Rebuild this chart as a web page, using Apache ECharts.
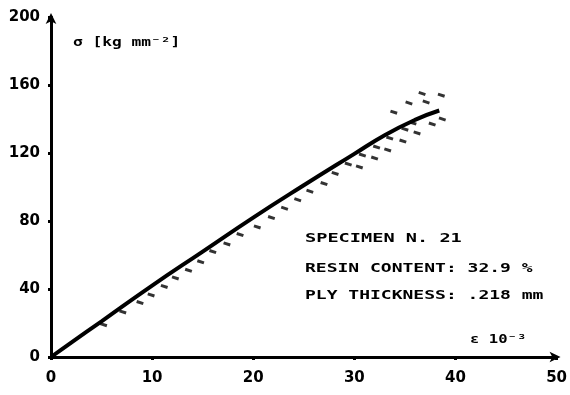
<!DOCTYPE html>
<html>
<head>
<meta charset="utf-8">
<script src="https://cdn.jsdelivr.net/npm/echarts@6/dist/echarts.min.js"></script>
<style>
  html, body { margin: 0; padding: 0; background: #fff; }
  #chart { width: 570px; height: 395px; }
</style>
</head>
<body>
<div id="chart"></div>
<script>
// mean stress-strain curve (strain 10^-3, stress kg/mm2)
const curve = [
  [0, 0], [2, 8.5], [5, 21], [10, 42], [15, 62], [20, 82],
  [25, 101], [30, 119.5], [33, 130.5], [36, 139.5], [38.4, 145]
];
// scatter dashes of the individual readings
const lowerBand = [
  [5.2, 19], [7.1, 26.5], [8.8, 32], [9.9, 36.5], [11.2, 41.5], [12.3, 46.5],
  [13.6, 51], [14.8, 56], [16, 62], [17.4, 66.5], [18.7, 72], [20.4, 76.5],
  [21.8, 82], [23.1, 87.5], [24.4, 92.5], [25.6, 97.5], [27, 102], [28.1, 108],
  [29.4, 113.5], [30.8, 118.8], [32.2, 123.5], [33.5, 128.8], [35, 134],
  [35.8, 137.6], [37.7, 137], [38.7, 140]
];
const secondRow = [[30.5, 111.8], [32, 117], [33.3, 121.8], [34.8, 127], [36.2, 131.8]];
const upperBand = [[33.9, 144], [35.4, 149.4], [36.7, 155], [37.1, 150], [38.6, 154]];
const xTicks = [0, 10, 20, 30, 40, 50];
const yTicks = [0, 40, 80, 120, 160, 200];

const chart = echarts.init(document.getElementById("chart"));
const ink = "#000";
const tickFont = { color: ink, fontFamily: "DejaVu Sans", fontWeight: "bold", fontSize: 15 };
const noteFont = { fill: ink, font: "bold 12px 'DejaVu Sans Mono'" };

const axisBase = {
  type: "value",
  axisLine: { show: true, symbol: ["none", "arrow"], symbolSize: [8, 11], symbolOffset: [0, 4], lineStyle: { color: ink, width: 3 } },
  axisTick: { show: true, inside: false, length: 3, lineStyle: { color: ink, width: 3 } },
  splitLine: { show: false }
};

const dash = (data) => ({
  type: "scatter",
  data,
  symbol: "rect",
  symbolSize: [7, 3],
  symbolRotate: -18,
  itemStyle: { color: ink },
  silent: true
});

chart.setOption({
  animation: false,
  grid: { left: 51, right: 13, top: 17, bottom: 38 },
  xAxis: {
    ...axisBase,
    min: 0, max: 50, interval: 10,
    axisLabel: { ...tickFont, margin: 14, formatter: (v) => (xTicks.includes(v) ? String(v) : "") }
  },
  yAxis: {
    ...axisBase,
    min: 0, max: 200, interval: 40,
    axisLabel: { ...tickFont, margin: 11, formatter: (v) => (yTicks.includes(v) ? String(v) : "") }
  },
  graphic: [
    { type: "text", left: 73, top: 37, scaleX: 1.35, style: { ...noteFont, text: "σ [kg mm⁻²]" } },
    { type: "text", left: 305, top: 233, scaleX: 1.55, style: { ...noteFont, text: "SPECIMEN N. 21" } },
    { type: "text", left: 305, top: 263, scaleX: 1.5, style: { ...noteFont, text: "RESIN CONTENT: 32.9 %" } },
    { type: "text", left: 305, top: 290, scaleX: 1.5, style: { ...noteFont, text: "PLY THICKNESS: .218 mm" } },
    { type: "text", left: 470, top: 334, scaleX: 1.3, style: { ...noteFont, text: "ε 10⁻³" } }
  ],
  series: [
    {
      type: "line",
      data: curve,
      smooth: true,
      showSymbol: false,
      lineStyle: { color: ink, width: 4 },
      silent: true
    },
    dash(lowerBand),
    dash(secondRow),
    dash(upperBand)
  ]
});
</script>
</body>
</html>
